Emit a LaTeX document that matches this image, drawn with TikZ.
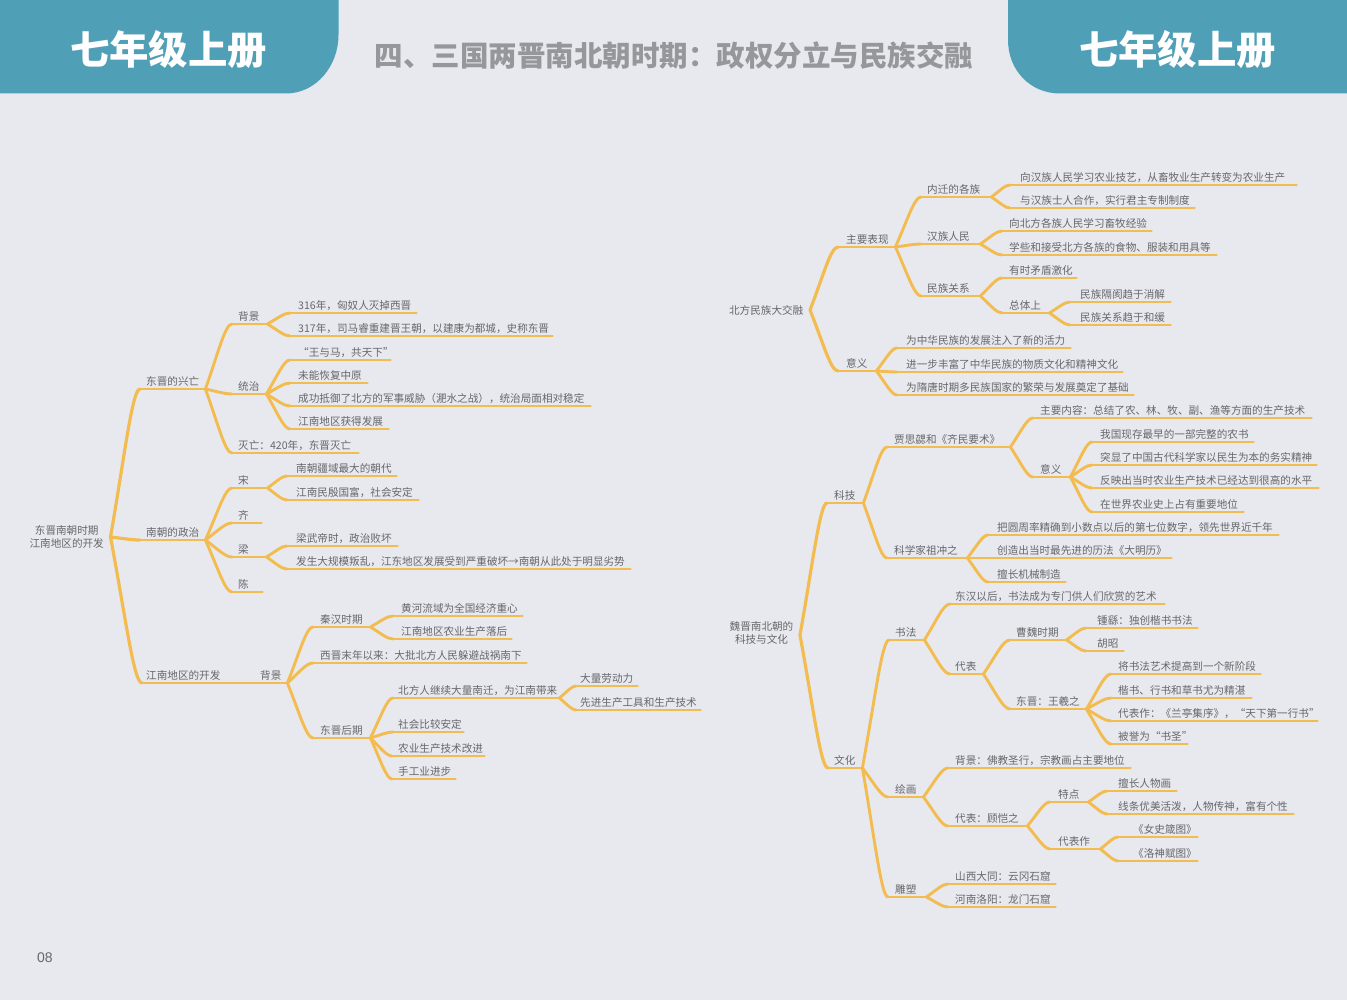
\documentclass[tikz,border=0pt]{standalone}
\usepackage{fontspec}
\usetikzlibrary{calc}
\setmainfont{Noto Sans CJK SC}
\newfontfamily\numfont{Liberation Sans}
\definecolor{pagebg}{HTML}{E8E9EE}
\definecolor{tabteal}{HTML}{4F9FB6}
\definecolor{titlegray}{HTML}{96979B}
\definecolor{linegold}{HTML}{F3BC50}
\definecolor{textgray}{HTML}{66676A}
\tikzset{
  topic/.style={inner xsep=0pt,inner ysep=0pt,minimum height=16pt,anchor=south west,
    text height=10.2pt,text depth=0.2pt,text=textgray,font=\fontsize{10.6pt}{13pt}\selectfont},
  rootnode/.style={inner xsep=6.5pt,inner ysep=0pt,anchor=east,align=center,text=textgray,
    font=\fontsize{10.6pt}{12.2pt}\selectfont},
  branch/.style={draw=linegold,line width=2.9pt,line cap=round,line join=round},
  rootbranch/.style={branch,line width=3.2pt},
  tabshape/.style={fill=tabteal,draw=none},
  tabtext/.style={text=white,font=\fontsize{39.4pt}{42pt}\selectfont\bfseries},
  maintitle/.style={text=titlegray,font=\fontsize{28.5pt}{30pt}\selectfont\bfseries}
}
% name, line start x, line end x, line y, text start x, text
\newcommand\mmtopic[6]{%
  \pgfmathsetmacro\mmw{#3-#2}\pgfmathsetmacro\mmp{#5-#2}%
  \node[topic] (#1) at (#2,#4) {\hbox to \mmw pt{\hspace{\mmp pt}#6\hss}};
  \draw[branch] (#1.south west) -- (#1.south east);}
\newcommand\mmcurve[3]{%
  \draw[#3] let \p1=(#1),\p2=(#2) in (\p1)
    .. controls ({\x1+.48*(\x2-\x1)},{\y1+.55*(\y2-\y1)}) and ({\x1+.74*(\x2-\x1)},\y2) .. (\p2);}
\newcommand\mmlinks[2]{\foreach \kidname in {#2}{\mmcurve{#1.south east}{\kidname.south west}{branch}}}
\newcommand\mmrootlinks[2]{\foreach \kidname in {#2}{\mmcurve{#1.east}{\kidname.south west}{rootbranch}}}
\begin{document}
\begin{tikzpicture}[x=1pt,y=-1pt]
\useasboundingbox (0,0) rectangle (1347,1000);
\fill[pagebg] (0,0) rectangle (1347,1000);
% header
\path[tabshape] (0,0) -- (338.5,0) -- (338.5,35) .. controls (338.5,66) and (316,93.5) .. (286,93.5) -- (0,93.5) -- cycle;
\path[tabshape] (1347,0) -- (1008,0) -- (1008,40) .. controls (1008,70) and (1030,93.5) .. (1060,93.5) -- (1347,93.5) -- cycle;
\node[tabtext] (tabL) at (168.5,49.5) {七年级上册};
\node[tabtext] (tabR) at (1177.5,49.5) {七年级上册};
\node[maintitle] (title) at (674,56) {四、三国两晋南北朝时期：政权分立与民族交融};
\node[text=textgray,font=\numfont\fontsize{14pt}{16pt}\selectfont] (pageno) at (45,958) {08};

% ===== left tree
\node[rootnode] (rootA) at (110.5,537) {东晋南朝时期\\江南地区的开发};
\mmtopic{dj}{140}{205}{389}{146}{东晋的兴亡}
\mmtopic{nc}{140}{205}{540}{146}{南朝的政治}
\mmtopic{jn}{142}{254}{683}{146}{江南地区的开发}
\mmrootlinks{rootA}{dj,nc,jn}
\mmtopic{bj}{232}{267}{324}{238}{背景}
\mmtopic{tz}{232}{266}{394}{238}{统治}
\mmtopic{mw}{232}{358}{453}{238}{灭亡：420年，东晋灭亡}
\mmlinks{dj}{bj,tz,mw}
\mmtopic{y316}{290}{416}{313}{298}{316年，匈奴人灭掉西晋}
\mmtopic{y317}{290}{552}{336}{298}{317年，司马睿重建晋王朝，以建康为都城，史称东晋}
\mmlinks{bj}{y316,y317}
\mmtopic{wym}{290}{390}{360}{298}{“王与马，共天下”}
\mmtopic{wn}{290}{367}{383}{298}{未能恢复中原}
\mmtopic{cg}{290}{590}{406}{298}{成功抵御了北方的军事威胁（淝水之战），统治局面相对稳定}
\mmtopic{jnhd}{290}{388}{429}{298}{江南地区获得发展}
\mmlinks{tz}{wym,wn,cg,jnhd}
\mmtopic{song}{232}{267}{488}{238}{宋}
\mmtopic{qi}{232}{261}{523}{238}{齐}
\mmtopic{liang}{232}{266}{557}{238}{梁}
\mmtopic{chen}{232}{262}{592}{238}{陈}
\mmlinks{nc}{song,qi,liang,chen}
\mmtopic{ncj}{287}{396}{476}{296}{南朝疆域最大的朝代}
\mmtopic{jnm}{287}{418}{500}{296}{江南民殷国富，社会安定}
\mmlinks{song}{ncj,jnm}
\mmtopic{lw}{287}{397}{546}{296}{梁武帝时，政治败坏}
\mmtopic{fs}{287}{630}{569}{296}{发生大规模叛乱，江东地区发展受到严重破坏→南朝从此处于明显劣势}
\mmlinks{liang}{lw,fs}
\mmtopic{bj2}{254}{287}{683}{260}{背景}
\mmtopic{qh}{313}{370}{627}{320}{秦汉时期}
\mmtopic{xj}{313}{526}{663}{320}{西晋末年以来：大批北方人民躲避战祸南下}
\mmtopic{djh}{313}{370}{738}{320}{东晋后期}
\mmlinks{bj2}{qh,xj,djh}
\mmtopic{hh}{393}{522}{616}{401}{黄河流域为全国经济重心}
\mmtopic{jnn}{393}{511}{639}{401}{江南地区农业生产落后}
\mmlinks{qh}{hh,jnn}
\mmtopic{bf}{393}{559}{698}{398}{北方人继续大量南迁，为江南带来}
\mmtopic{sh}{393}{463}{732}{398}{社会比较安定}
\mmtopic{ny}{392}{484}{756}{398}{农业生产技术改进}
\mmtopic{sg}{392}{455}{779}{398}{手工业进步}
\mmlinks{djh}{bf,sh,ny,sg}
\mmtopic{ld}{576}{637}{686}{580}{大量劳动力}
\mmtopic{xjs}{576}{700}{710}{580}{先进生产工具和生产技术}
\mmlinks{bf}{ld,xjs}

% ===== right tree, north
\node[rootnode] (rootB) at (810,310) {北方民族大交融};
\mmtopic{zy}{838}{895}{247}{846}{主要表现}
\mmtopic{yy}{838}{876}{371}{846}{意义}
\mmrootlinks{rootB}{zy,yy}
\mmtopic{nq}{921}{991}{197}{927}{内迁的各族}
\mmtopic{hz}{921}{980}{244}{927}{汉族人民}
\mmtopic{mz}{921}{980}{296}{927}{民族关系}
\mmlinks{zy}{nq,hz,mz}
\mmtopic{xh}{1010}{1296}{185}{1020}{向汉族人民学习农业技艺，从畜牧业生产转变为农业生产}
\mmtopic{yh}{1010}{1194}{208}{1020}{与汉族士人合作，实行君主专制制度}
\mmlinks{nq}{xh,yh}
\mmtopic{xb}{1002}{1151}{231}{1009}{向北方各族人民学习畜牧经验}
\mmtopic{xx}{1002}{1216}{255}{1009}{学些和接受北方各族的食物、服装和用具等}
\mmlinks{hz}{xb,xx}
\mmtopic{ys}{1002}{1076}{278}{1009}{有时矛盾激化}
\mmtopic{zt}{1002}{1049}{313}{1009}{总体上}
\mmlinks{mz}{ys,zt}
\mmtopic{gh}{1070}{1170}{302}{1080}{民族隔阂趋于消解}
\mmtopic{gx}{1070}{1170}{325}{1080}{民族关系趋于和缓}
\mmlinks{zt}{gh,gx}
\mmtopic{wz}{897}{1070}{348}{906}{为中华民族的发展注入了新的活力}
\mmtopic{jy}{897}{1122}{372}{906}{进一步丰富了中华民族的物质文化和精神文化}
\mmtopic{ws}{897}{1133}{395}{906}{为隋唐时期多民族国家的繁荣与发展奠定了基础}
\mmlinks{yy}{wz,jy,ws}

% ===== right tree, south
\node[rootnode] (rootC) at (800,633) {魏晋南北朝的\\科技与文化};
\mmtopic{kj}{827}{863}{503}{834}{科技}
\mmtopic{wh}{828}{862}{768}{834}{文化}
\mmrootlinks{[yshift=-2pt]rootC}{kj,wh}
\mmtopic{jsx}{887}{1010}{447}{894}{贾思勰和《齐民要术》}
\mmtopic{zcz}{887}{967}{558}{894}{科学家祖冲之}
\mmlinks{kj}{jsx,zcz}
\mmtopic{zn}{1033}{1311}{418}{1040}{主要内容：总结了农、林、牧、副、渔等方面的生产技术}
\mmtopic{yy2}{1033}{1070}{477}{1040}{意义}
\mmlinks{jsx}{zn,yy2}
\mmtopic{wg}{1092}{1253}{442}{1100}{我国现存最早的一部完整的农书}
\mmtopic{tx}{1092}{1316}{465}{1100}{突显了中国古代科学家以民生为本的务实精神}
\mmtopic{fy}{1092}{1318}{488}{1100}{反映出当时农业生产技术已经达到很高的水平}
\mmtopic{zs}{1092}{1243}{512}{1100}{在世界农业史上占有重要地位}
\mmlinks{yy2}{wg,tx,fy,zs}
\mmtopic{by}{988}{1278}{535}{997}{把圆周率精确到小数点以后的第七位数字，领先世界近千年}
\mmtopic{cz}{988}{1171}{558}{997}{创造出当时最先进的历法《大明历》}
\mmtopic{sc}{988}{1065}{582}{997}{擅长机械制造}
\mmlinks{zcz}{by,cz,sc}
\mmtopic{sf}{889}{924}{640}{895}{书法}
\mmtopic{hh2}{888}{923}{797}{895}{绘画}
\mmtopic{ds}{888}{926}{897}{895}{雕塑}
\mmlinks{wh}{sf,hh2,ds}
\mmtopic{dh}{950}{1164}{604}{955}{东汉以后，书法成为专门供人们欣赏的艺术}
\mmtopic{db}{950}{983}{674}{955}{代表}
\mmlinks{sf}{dh,db}
\mmtopic{cw}{1010}{1066}{640}{1016}{曹魏时期}
\mmtopic{dw}{1010}{1086}{709}{1016}{东晋：王羲之}
\mmlinks{db}{cw,dw}
\mmtopic{zy2}{1086}{1197}{628}{1097}{锺繇：独创楷书书法}
\mmtopic{hz2}{1086}{1123}{651}{1097}{胡昭}
\mmlinks{cw}{zy2,hz2}
\mmtopic{js}{1111}{1260}{674}{1118}{将书法艺术提高到一个新阶段}
\mmtopic{ks}{1111}{1251}{698}{1118}{楷书、行书和草书尤为精湛}
\mmtopic{dbz}{1111}{1317}{721}{1118}{代表作：《兰亭集序》，“天下第一行书”}
\mmtopic{by2}{1111}{1187}{744}{1118}{被誉为“书圣”}
\mmlinks{dw}{js,ks,dbz,by2}
\mmtopic{bjf}{948}{1130}{768}{955}{背景：佛教圣行，宗教画占主要地位}
\mmtopic{gk}{948}{1027}{826}{955}{代表：顾恺之}
\mmlinks{hh2}{bjf,gk}
\mmtopic{td}{1050}{1088}{802}{1058}{特点}
\mmtopic{dbg}{1050}{1100}{849}{1058}{代表作}
\mmlinks{gk}{td,dbg}
\mmtopic{sz}{1107}{1176}{791}{1118}{擅长人物画}
\mmtopic{xt}{1107}{1293}{814}{1118}{线条优美活泼，人物传神，富有个性}
\mmlinks{td}{sz,xt}
\mmtopic{ns}{1118}{1197}{837}{1133}{《女史箴图》}
\mmtopic{ls}{1118}{1197}{861}{1133}{《洛神赋图》}
\mmlinks{dbg}{ns,ls}
\mmtopic{sx}{948}{1055}{884}{955}{山西大同：云冈石窟}
\mmtopic{hn}{948}{1055}{907}{955}{河南洛阳：龙门石窟}
\mmlinks{ds}{sx,hn}
\end{tikzpicture}
\end{document}
